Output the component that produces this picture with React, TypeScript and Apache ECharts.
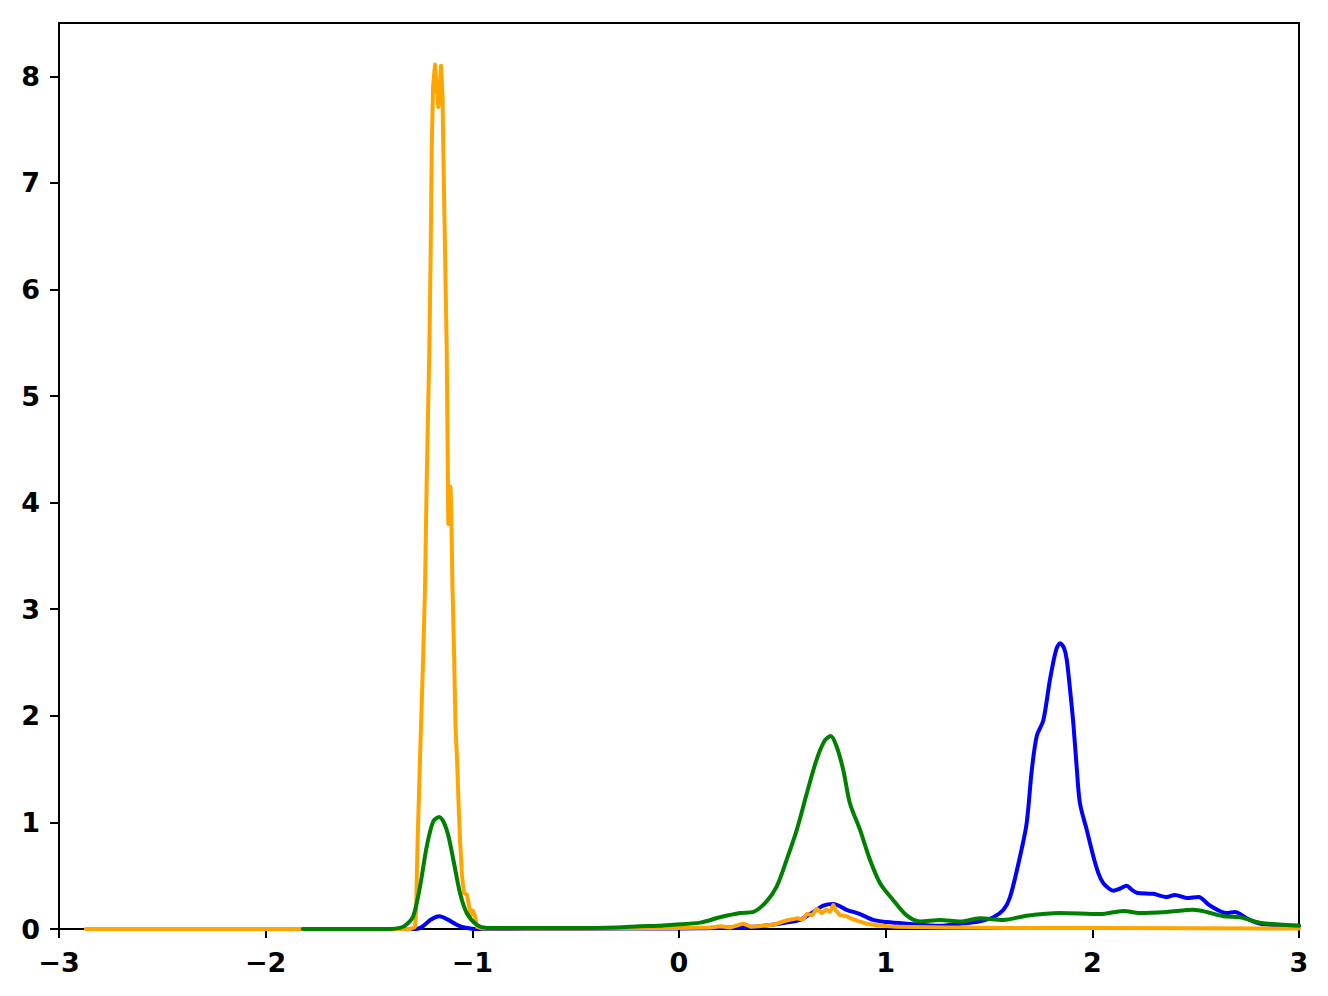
import React, { useEffect, useRef } from "react";
import * as echarts from "echarts";

const xTicks = [-3, -2, -1, 0, 1, 2, 3];
const yTicks = [0, 1, 2, 3, 4, 5, 6, 7, 8];

const blueData: [number, number][] = [
  [-1.82, 0], [-1.3, 0], [-1.26, 0.005], [-1.23, 0.04], [-1.2, 0.09], [-1.16, 0.12],
  [-1.12, 0.09], [-1.08, 0.045], [-1.05, 0.02], [-1.01, 0.005], [-0.97, 0],
  [-0.5, 0.003], [0, 0.005], [0.2, 0.01], [0.35, 0.02], [0.45, 0.04], [0.52, 0.06],
  [0.585, 0.085], [0.65, 0.16], [0.698, 0.22], [0.747, 0.235], [0.811, 0.18],
  [0.876, 0.14], [0.94, 0.085], [1.005, 0.065], [1.1, 0.05], [1.263, 0.03],
  [1.36, 0.05], [1.45, 0.07], [1.521, 0.11], [1.57, 0.18], [1.602, 0.3], [1.65, 0.68],
  [1.682, 0.99], [1.707, 1.49], [1.731, 1.81], [1.763, 1.96], [1.795, 2.34],
  [1.825, 2.62], [1.844, 2.68], [1.862, 2.64], [1.876, 2.53], [1.892, 2.25], [1.908, 1.93],
  [1.925, 1.5], [1.94, 1.18], [1.973, 0.93], [2.005, 0.68], [2.03, 0.52], [2.053, 0.43],
  [2.08, 0.38], [2.101, 0.36], [2.135, 0.38], [2.166, 0.405], [2.19, 0.37], [2.215, 0.34],
  [2.295, 0.33], [2.36, 0.3], [2.4, 0.32], [2.457, 0.29], [2.513, 0.3], [2.569, 0.22],
  [2.65, 0.15], [2.69, 0.16], [2.747, 0.1], [2.81, 0.05], [2.9, 0.035], [3, 0.03],
];

const orangeData: [number, number][] = [
  [-2.87, 0], [-1.3, 0], [-1.2775, 0.02], [-1.2726, 0.15], [-1.2645, 0.84], [-1.2532, 1.6],
  [-1.2372, 2.6], [-1.229, 3.2], [-1.2208, 4.2], [-1.208, 5.44], [-1.2014, 6.38],
  [-1.1966, 7.31], [-1.19, 7.9], [-1.1806, 8.11], [-1.173, 7.9], [-1.1646, 7.71],
  [-1.156, 7.95], [-1.1517, 8.1], [-1.144, 7.8], [-1.1405, 7.31], [-1.1323, 6.38],
  [-1.124, 5.44], [-1.1201, 4.6], [-1.1163, 3.8], [-1.1105, 3.85], [-1.1057, 4.15],
  [-1.1018, 3.9], [-1.096, 3.2], [-1.0887, 2.62], [-1.0815, 1.9], [-1.0742, 1.6],
  [-1.067, 1.2], [-1.0597, 0.84], [-1.05, 0.5], [-1.0403, 0.34], [-1.0258, 0.32],
  [-1.016, 0.22], [-1.0064, 0.13], [-0.9968, 0.17], [-0.987, 0.12], [-0.9774, 0.02],
  [-0.95, 0.005], [-0.5, 0.005], [0, 0.01], [0.15, 0.015], [0.2, 0.025], [0.25, 0.015],
  [0.311, 0.05], [0.35, 0.02], [0.455, 0.04], [0.52, 0.08], [0.57, 0.1], [0.6, 0.09],
  [0.618, 0.14], [0.645, 0.13], [0.666, 0.19], [0.69, 0.15], [0.715, 0.18],
  [0.73, 0.16], [0.747, 0.225], [0.76, 0.17], [0.779, 0.13], [0.81, 0.12],
  [0.843, 0.09], [0.875, 0.07], [0.908, 0.05], [0.957, 0.035], [1.05, 0.02],
  [1.3, 0.015], [1.6, 0.01], [2, 0.01], [2.5, 0.008], [3, 0.005],
];

const greenData: [number, number][] = [
  [-1.82, 0], [-1.4, 0], [-1.35, 0.01], [-1.32, 0.04], [-1.286, 0.12], [-1.253, 0.4],
  [-1.221, 0.77], [-1.189, 1.01], [-1.16, 1.05], [-1.124, 0.93], [-1.092, 0.65],
  [-1.06, 0.34], [-1.027, 0.15], [-0.979, 0.04], [-0.93, 0.01], [-0.5, 0.01],
  [-0.3, 0.015], [-0.189, 0.025], [-0.1, 0.03], [-0.028, 0.04], [0.102, 0.06],
  [0.198, 0.11], [0.295, 0.15], [0.36, 0.16], [0.424, 0.26], [0.473, 0.4],
  [0.521, 0.65], [0.57, 0.93], [0.618, 1.27], [0.666, 1.59], [0.706, 1.77],
  [0.734, 1.81], [0.763, 1.71], [0.795, 1.49], [0.827, 1.18], [0.876, 0.93],
  [0.924, 0.65], [0.973, 0.43], [1.037, 0.27], [1.1, 0.13], [1.166, 0.07],
  [1.263, 0.085], [1.36, 0.07], [1.456, 0.1], [1.569, 0.085], [1.682, 0.125],
  [1.844, 0.15], [2.037, 0.14], [2.15, 0.17], [2.23, 0.15], [2.36, 0.16],
  [2.488, 0.18], [2.553, 0.16], [2.634, 0.12], [2.714, 0.11], [2.81, 0.06], [3, 0.03],
];

const fmt = (v: number) => (v < 0 ? "\u2212" + Math.abs(v) : String(v));

export default function App() {
  const ref = useRef<HTMLDivElement>(null);
  useEffect(() => {
    if (!ref.current) return;
    const chart = echarts.init(ref.current, null, { renderer: "svg" });
    const labelStyle = {
      color: "#000",
      fontFamily: "DejaVu Sans",
      fontWeight: "bold" as const,
      fontSize: 27,
    };
    const mkSeries = (name: string, data: [number, number][], color: string, smooth: number | false) => ({
      name,
      type: "line",
      data,
      showSymbol: false,
      symbol: "none",
      smooth,
      lineStyle: { color, width: 4, join: "round", cap: "round" },
      itemStyle: { color },
      clip: true,
    });
    chart.setOption({
      animation: false,
      backgroundColor: "#fff",
      grid: {
        left: 59,
        right: 29,
        top: 23,
        bottom: 67,
        show: true,
        borderColor: "#000",
        borderWidth: 2,
        backgroundColor: "transparent",
      },
      xAxis: {
        type: "value",
        min: -3,
        max: 3,
        interval: 1,
        splitLine: { show: false },
        axisLine: { show: true, onZero: false, lineStyle: { color: "#000", width: 2 } },
        axisTick: { show: true, length: 9, inside: false, lineStyle: { color: "#000", width: 2 }, customValues: xTicks },
        axisLabel: { ...labelStyle, margin: 20, formatter: fmt, customValues: xTicks },
      },
      yAxis: {
        type: "value",
        min: 0,
        max: 8.5,
        interval: 1,
        splitLine: { show: false },
        axisLine: { show: true, onZero: false, lineStyle: { color: "#000", width: 2 } },
        axisTick: { show: true, length: 9, inside: false, lineStyle: { color: "#000", width: 2 }, customValues: yTicks },
        axisLabel: { ...labelStyle, margin: 19, formatter: fmt, customValues: yTicks },
      },
      series: [
        mkSeries("blue", blueData, "#0000ff", 0.3),
        mkSeries("orange", orangeData, "#ffa500", false),
        mkSeries("green", greenData, "#008000", 0.3),
      ],
    });
    return () => chart.dispose();
  }, []);
  return (
    <div
      ref={ref}
      style={{ position: "fixed", left: 0, top: 0, width: 1328, height: 996, background: "#fff" }}
    />
  );
}
